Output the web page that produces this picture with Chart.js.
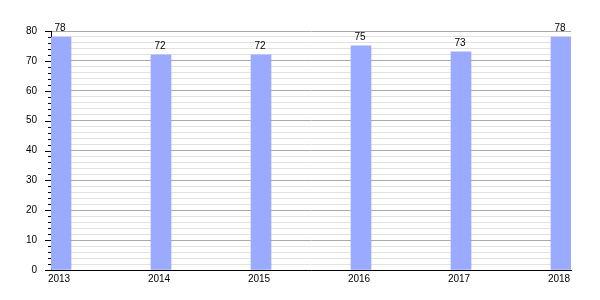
<!DOCTYPE html>
<html>
<head>
<meta charset="utf-8">
<script src="https://cdn.jsdelivr.net/npm/chart.js@4/dist/chart.umd.min.js"></script>
<style>
  body { margin: 0; background: #fff; }
  canvas { display: block; }
</style>
</head>
<body>
<canvas id="barChart" width="600" height="300"></canvas>
<script>
const years = [2013, 2014, 2015, 2016, 2017, 2018];
const values = [78, 72, 72, 75, 73, 78];
const yMax = 80;

// value labels above the bars
const valueLabels = {
    id: 'valueLabels',
    afterDatasetsDraw(chart) {
        const ctx = chart.ctx;
        const meta = chart.getDatasetMeta(0);
        ctx.save();
        ctx.font = '10px "Liberation Sans", Arial, sans-serif';
        ctx.fillStyle = '#000';
        ctx.textAlign = 'center';
        ctx.textBaseline = 'alphabetic';
        meta.data.forEach((bar, i) => {
            ctx.fillText(values[i], bar.x - 1, bar.y - 6);
        });
        ctx.restore();
    }
};

// small tick marks on the y axis, longer ones every 10
const yTicks = {
    id: 'yTicks',
    afterDraw(chart) {
        const ctx = chart.ctx;
        const y = chart.scales.y;
        const left = chart.chartArea.left;
        ctx.save();
        ctx.strokeStyle = '#000';
        ctx.lineWidth = 1;
        for (let v = 0; v <= yMax; v += 2) {
            const py = Math.round(y.getPixelForValue(v)) + 0.5;
            const len = v % 10 === 0 ? 6 : 3;
            ctx.beginPath();
            ctx.moveTo(left - len, py);
            ctx.lineTo(left, py);
            ctx.stroke();
        }
        ctx.restore();
    }
};

const ctx = document.getElementById('barChart').getContext('2d');

new Chart(ctx, {
    type: 'bar',
    data: {
        datasets: [{
            data: years.map((yr, i) => ({ x: yr + 0.1, y: values[i] })),
            backgroundColor: '#99aaff',
            borderWidth: 0,
            barThickness: 20
        }]
    },
    options: {
        responsive: false,
        animation: false,
        layout: { padding: { top: 31, right: 29, left: 0, bottom: 0 } },
        plugins: {
            legend: { display: false },
            tooltip: { enabled: false }
        },
        scales: {
            x: {
                type: 'linear',
                offset: false,
                min: 2013,
                max: 2018.2,
                grid: { display: false, drawTicks: false, offset: false },
                border: { display: true, color: '#000', width: 1 },
                afterFit(scale) { scale.height = 30; },
                afterBuildTicks(scale) {
                    scale.ticks = years.map(v => ({ value: v }));
                },
                ticks: {
                    padding: 3,
                    labelOffset: 8,
                    autoSkip: false,
                    maxRotation: 0,
                    color: '#000',
                    font: { family: '"Liberation Sans", Arial, sans-serif', size: 10 },
                    callback: v => String(v)
                }
            },
            y: {
                min: 0,
                max: yMax,
                afterFit(scale) { scale.width = 51; },
                grid: {
                    drawTicks: false,
                    color: c => c.tick.value % 10 === 0 ? '#aaaaaa' : '#e2e2e2',
                    lineWidth: 1
                },
                border: { display: true, color: '#000', width: 1 },
                ticks: {
                    stepSize: 2,
                    padding: 14,
                    autoSkip: false,
                    color: '#000',
                    font: { family: '"Liberation Sans", Arial, sans-serif', size: 10 },
                    callback: v => v % 10 === 0 ? String(v) : ''
                }
            }
        }
    },
    plugins: [valueLabels, yTicks]
});
</script>
</body>
</html>
